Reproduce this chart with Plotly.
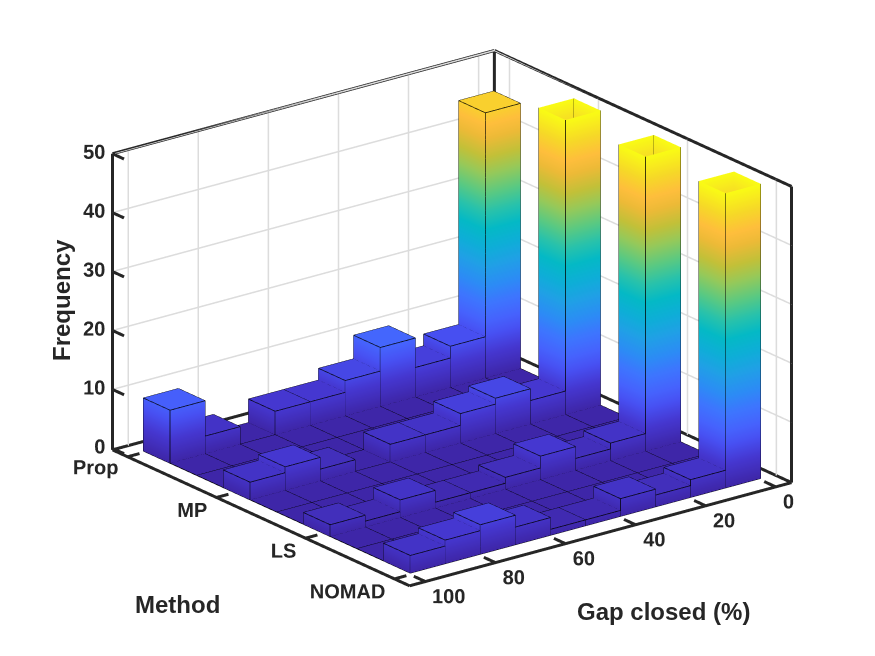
import numpy as np
import plotly.graph_objects as go

# frequencies per "gap closed" bin (0-10, 10-20, ..., 90-100) for each method
methods = ["Prop", "MP", "LS", "NOMAD"]
method_pos = [1, 2, 3, 4]
gap_edges = [0, 10, 20, 30, 40, 50, 60, 70, 80, 90, 100]
prop = [45, 7, 5, 10, 6, 4, 4, 0, 3, 9]
mp = [64, 4, 6, 5, 3, 3, 0, 2, 4, 3]
ls = [74, 3, 2, 4, 2, 1, 1, 3, 1, 2]
nomad = [70, 3, 2, 3, 1, 1, 3, 5, 4, 3]
gap_ticks = [0, 20, 40, 60, 80, 100]
freq_ticks = [0, 10, 20, 30, 40, 50]

# parula colormap (approx.)
parula = [
    [0.000, "rgb(62,38,168)"],
    [0.080, "rgb(69,55,208)"],
    [0.140, "rgb(71,80,242)"],
    [0.190, "rgb(70,98,253)"],
    [0.250, "rgb(61,118,254)"],
    [0.310, "rgb(44,140,245)"],
    [0.375, "rgb(32,160,230)"],
    [0.440, "rgb(14,174,215)"],
    [0.500, "rgb(4,185,198)"],
    [0.560, "rgb(40,194,172)"],
    [0.625, "rgb(90,201,130)"],
    [0.690, "rgb(150,201,90)"],
    [0.750, "rgb(195,192,56)"],
    [0.810, "rgb(237,186,55)"],
    [0.860, "rgb(254,190,60)"],
    [0.920, "rgb(246,216,40)"],
    [1.000, "rgb(249,251,21)"],
]

zmax = 50
zlo = -0.25
xr = [-4.5, 104.5]      # visible box
yr = [0.83, 4.17]
sx = [-9.0, 109.0]      # scene ranges (a bit larger so labels are not clipped)
sy = [0.68, 4.32]
sz = [-3.5, 51.0]
dark = "#262626"
font_family = "Liberation Sans, Arial, sans-serif"

# hist3 style grid: 10 bins along the method axis, methods fall in bins 1, 4, 7, 10
method_edges = np.linspace(1, 4, 11)
counts = np.zeros((10, 10))
for k, row in enumerate([prop, mp, ls, nomad]):
    counts[3 * k] = row

X, Y, Z, I, J, K = [], [], [], [], [], []
ex, ey, ez = [], [], []


def quad(pts):
    n = len(X)
    for a, b, c in pts:
        X.append(a)
        Y.append(b)
        Z.append(c)
    I.extend([n, n])
    J.extend([n + 1, n + 2])
    K.extend([n + 2, n + 3])


def seg(lst, p, q):
    lst[0].extend([p[0], q[0], None])
    lst[1].extend([p[1], q[1], None])
    lst[2].extend([p[2], q[2], None])


edges = (ex, ey, ez)
for i in range(10):
    y0, y1 = method_edges[i], method_edges[i + 1]
    for j in range(10):
        x0, x1 = gap_edges[j], gap_edges[j + 1]
        h = counts[i, j]
        hc = min(h, zmax)
        corners = [(x0, y0), (x1, y0), (x1, y1), (x0, y1)]
        if hc <= 0:
            quad([(a, b, 0) for a, b in corners])
            for m in range(4):
                seg(edges, (*corners[m], 0), (*corners[(m + 1) % 4], 0))
            continue
        for m in range(4):
            a, b = corners[m], corners[(m + 1) % 4]
            quad([(*a, 0), (*b, 0), (*b, hc), (*a, hc)])
            seg(edges, (*a, 0), (*b, 0))
            seg(edges, (*a, 0), (*a, hc))
        if h <= zmax:
            quad([(a, b, hc) for a, b in corners])
            for m in range(4):
                seg(edges, (*corners[m], hc), (*corners[(m + 1) % 4], hc))

fig = go.Figure()

xa, xb = xr
ya, yb = yr

# grid lines on the two back walls
grid = ([], [], [])
for g in gap_ticks:
    seg(grid, (g, ya, zlo), (g, ya, zmax))
for m in method_pos:
    seg(grid, (xa, m, zlo), (xa, m, zmax))
for f in freq_ticks[1:]:
    seg(grid, (xb, ya, f), (xa, ya, f))
    seg(grid, (xa, ya, f), (xa, yb, f))
fig.add_trace(go.Scatter3d(
    x=grid[0], y=grid[1], z=grid[2], mode="lines",
    line=dict(color="#dcdcdc", width=3), hoverinfo="skip", showlegend=False,
))

fig.add_trace(go.Mesh3d(
    x=X, y=Y, z=Z, i=I, j=J, k=K,
    intensity=Z, intensitymode="vertex",
    colorscale=parula, cmin=0, cmax=zmax, showscale=False,
    lighting=dict(ambient=1.0, diffuse=0.0, specular=0.0, roughness=1.0, fresnel=0.0),
    flatshading=False, hoverinfo="skip",
))

fig.add_trace(go.Scatter3d(
    x=ex, y=ey, z=ez, mode="lines",
    line=dict(color="black", width=1.5), hoverinfo="skip", showlegend=False,
))

# axes box (back edges only, like MATLAB) and tick marks
box = ([], [], [])
for p, q in [
    ((xb, ya, zlo), (xb, yb, zlo)), ((xb, yb, zlo), (xa, yb, zlo)),
    ((xa, yb, zlo), (xa, ya, zlo)), ((xa, ya, zlo), (xb, ya, zlo)),
    ((xb, ya, zlo), (xb, ya, zmax)), ((xa, ya, zlo), (xa, ya, zmax)),
    ((xa, yb, zlo), (xa, yb, zmax)),
    ((xb, ya, zmax), (xa, ya, zmax)), ((xa, ya, zmax), (xa, yb, zmax)),
]:
    seg(box, p, q)
for g in gap_ticks:
    seg(box, (g, yb, zlo), (g, yb - 0.13, zlo))
for m in method_pos:
    seg(box, (xb, m, zlo), (xb - 3.4, m, zlo))
for f in freq_ticks:
    seg(box, (xb, ya, f), (xb, ya + 0.13, f))
fig.add_trace(go.Scatter3d(
    x=box[0], y=box[1], z=box[2], mode="lines",
    line=dict(color=dark, width=6), hoverinfo="skip", showlegend=False,
))

# tick labels
tick_font = dict(family=font_family, size=20, color=dark, weight="bold")
fig.add_trace(go.Scatter3d(
    x=[g + 3.44 for g in gap_ticks], y=[yb] * len(gap_ticks),
    z=[zlo - 1.9] * len(gap_ticks),
    mode="text", text=[str(v) for v in gap_ticks], textposition="middle right",
    textfont=tick_font, hoverinfo="skip", showlegend=False,
))
fig.add_trace(go.Scatter3d(
    x=[xb - 2.87] * len(method_pos), y=method_pos, z=[zlo - 2.55] * len(method_pos),
    mode="text", text=methods, textposition="middle left",
    textfont=tick_font, hoverinfo="skip", showlegend=False,
))
fig.add_trace(go.Scatter3d(
    x=[xb - 3.44] * len(freq_ticks), y=[ya] * len(freq_ticks),
    z=[f - 0.2 for f in freq_ticks],
    mode="text", text=[str(v) for v in freq_ticks], textposition="middle left",
    textfont=tick_font, hoverinfo="skip", showlegend=False,
))

hidden_axis = dict(visible=False, showspikes=False)
title_font = dict(family=font_family, size=24, color=dark, weight="bold")

fig.update_layout(
    width=875, height=656,
    margin=dict(l=0, r=0, t=0, b=0),
    paper_bgcolor="white",
    showlegend=False,
    scene=dict(
        domain=dict(x=[0.0246, 0.9886], y=[0.03, 1.0]),
        xaxis=dict(range=sx, **hidden_axis),
        yaxis=dict(range=sy, **hidden_axis),
        zaxis=dict(range=sz, **hidden_axis),
        aspectmode="manual",
        aspectratio=dict(x=1.640, y=1.671, z=1.079),
        camera=dict(
            eye=dict(x=0.571 * 2, y=0.743 * 2, z=0.350 * 2),
            up=dict(x=0, y=0, z=1),
            center=dict(x=0, y=0, z=-0.004),
            projection=dict(type="orthographic"),
        ),
    ),
    annotations=[
        dict(text="Frequency", x=54 / 875, y=1 - 292 / 656, xref="paper", yref="paper",
             xanchor="center", yanchor="middle",
             showarrow=False, textangle=-90, font=title_font),
        dict(text="Method", x=169 / 875, y=1 - 596 / 656, xref="paper", yref="paper",
             xanchor="center", yanchor="middle", showarrow=False, font=title_font),
        dict(text="Gap closed (%)", x=655 / 875, y=1 - 603 / 656, xref="paper", yref="paper",
             xanchor="center", yanchor="middle", showarrow=False, font=title_font),
    ],
)

fig.write_html("out.html")
